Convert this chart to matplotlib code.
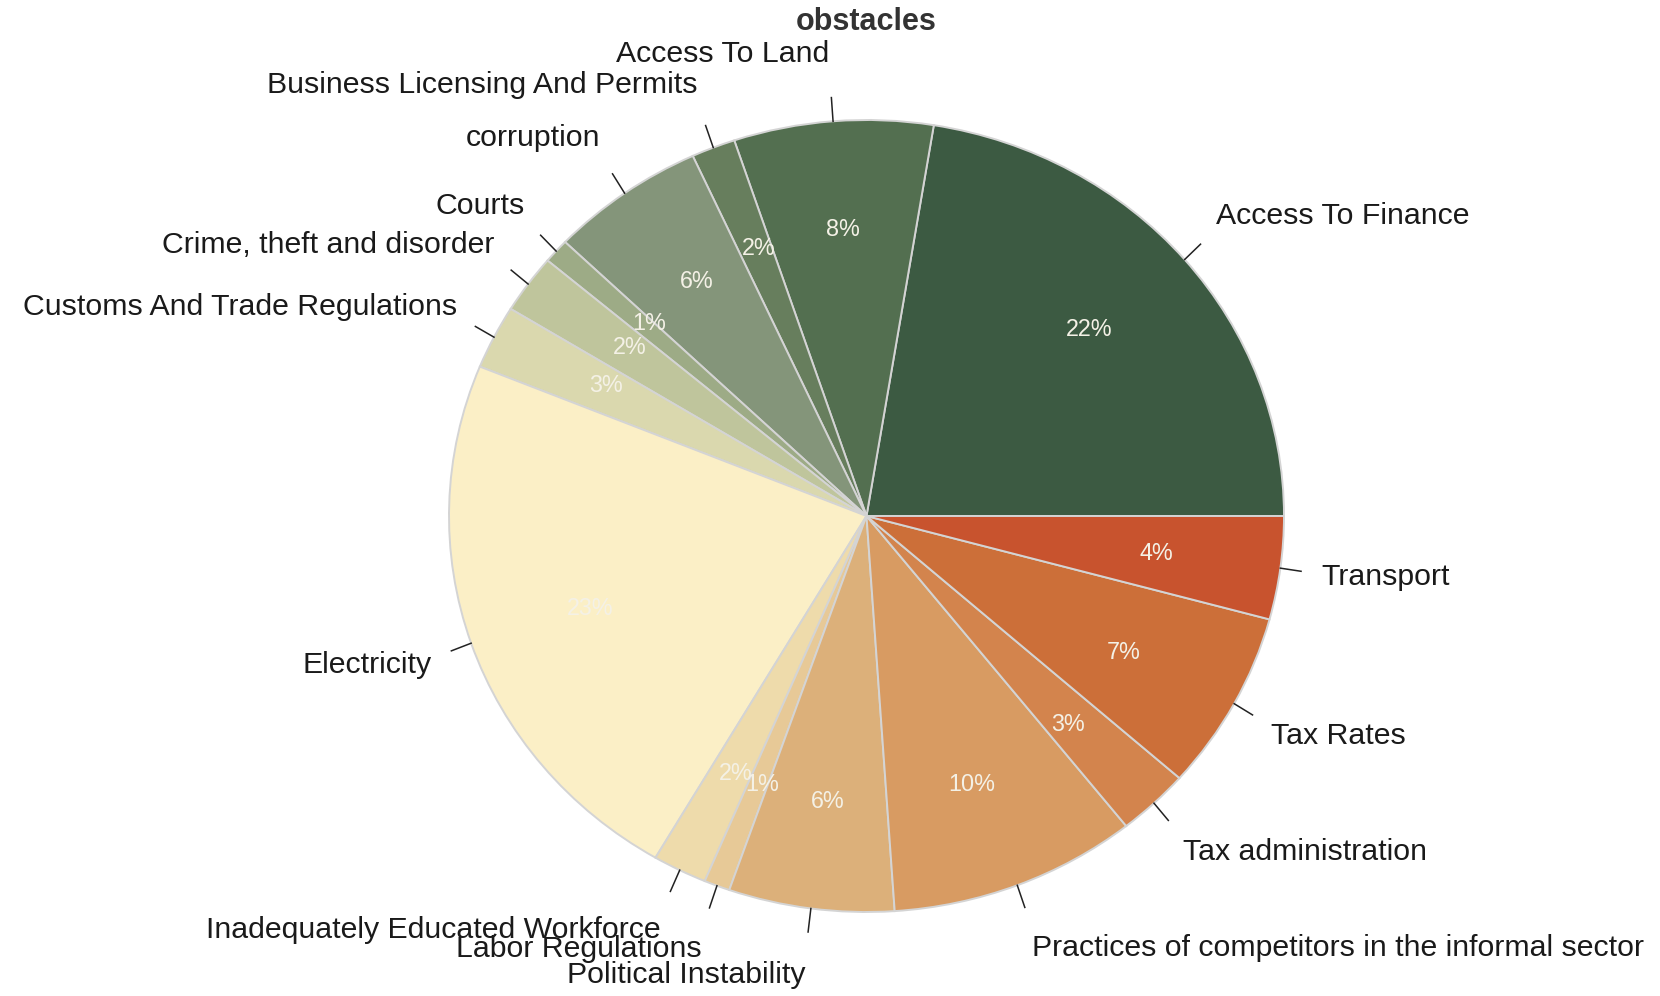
import numpy as np
import matplotlib
matplotlib.use("Agg")
import matplotlib.pyplot as plt

categories = ["Access To Finance", "Access To Land", "Business Licensing And Permits",
              "corruption", "Courts", "Crime, theft and disorder",
              "Customs And Trade Regulations", "Electricity",
              "Inadequately Educated Workforce", "Labor Regulations",
              "Political Instability", "Practices of competitors in the informal sector",
              "Tax administration", "Tax Rates", "Transport"]
shares = [22.4, 7.7, 1.7, 6.0, 1.0, 2.4, 2.6, 22.7, 2.1, 1.0, 6.4, 9.6, 2.8, 7.3, 4.2]
colors = ["#3c5a42", "#536f50", "#677e5d", "#84957a", "#9dab86", "#bfc59c",
          "#dad8ae", "#fbefc6", "#eedbab", "#e7c997", "#dcb07a", "#d89b62",
          "#d3844d", "#cc6f39", "#c8532e"]
title = "obstacles"

plt.rcParams['font.family'] = ['Liberation Sans', 'DejaVu Sans']

W, H = 1660, 996
fig = plt.figure(figsize=(W / 100, H / 100), dpi=100)
ax = fig.add_axes([0, 0, 1, 1])

cx, cy = 866.5, 516.0   # pixel centre (from top)
rx, ry = 417.5, 396.0

vals = np.array(shares) / np.sum(shares)
wedges, _, autotexts = ax.pie(
    vals, colors=colors, startangle=0, counterclock=True,
    autopct=lambda p: f"{p:.0f}%", pctdistance=0.7, labeldistance=None,
    wedgeprops=dict(edgecolor="#d4d4d4", linewidth=1.4),
    textprops=dict(color="#f4f1e6", fontsize=16.8))
for t in autotexts:
    x, y = t.get_position()
    t.set_position((x, y * 0.727 / 0.7))

ax.set_aspect("auto")
ax.set_xlim(-cx / rx, (W - cx) / rx)
ax.set_ylim(-(H - cy) / ry, cy / ry)
ax.axis("off")

cum = np.concatenate([[0], np.cumsum(vals)])
for i, lab in enumerate(categories):
    mid = 2 * np.pi * (cum[i] + cum[i + 1]) / 2
    c, s = np.cos(mid), np.sin(mid)
    ax.plot([c, 1.05 * c], [s, 1.06 * s], color="#222222", lw=1.1, clip_on=False)
    ax.text(1.1 * c, 1.17 * s, lab, ha="left" if c >= 0 else "right", va="center",
            fontsize=21.8, color="#1a1a1a")

fig.text(cx / W, 1 - 22 / H, title, ha="center", va="center",
         fontsize=22, fontweight="bold", color="#333333")

fig.savefig("out.png", dpi=100)
